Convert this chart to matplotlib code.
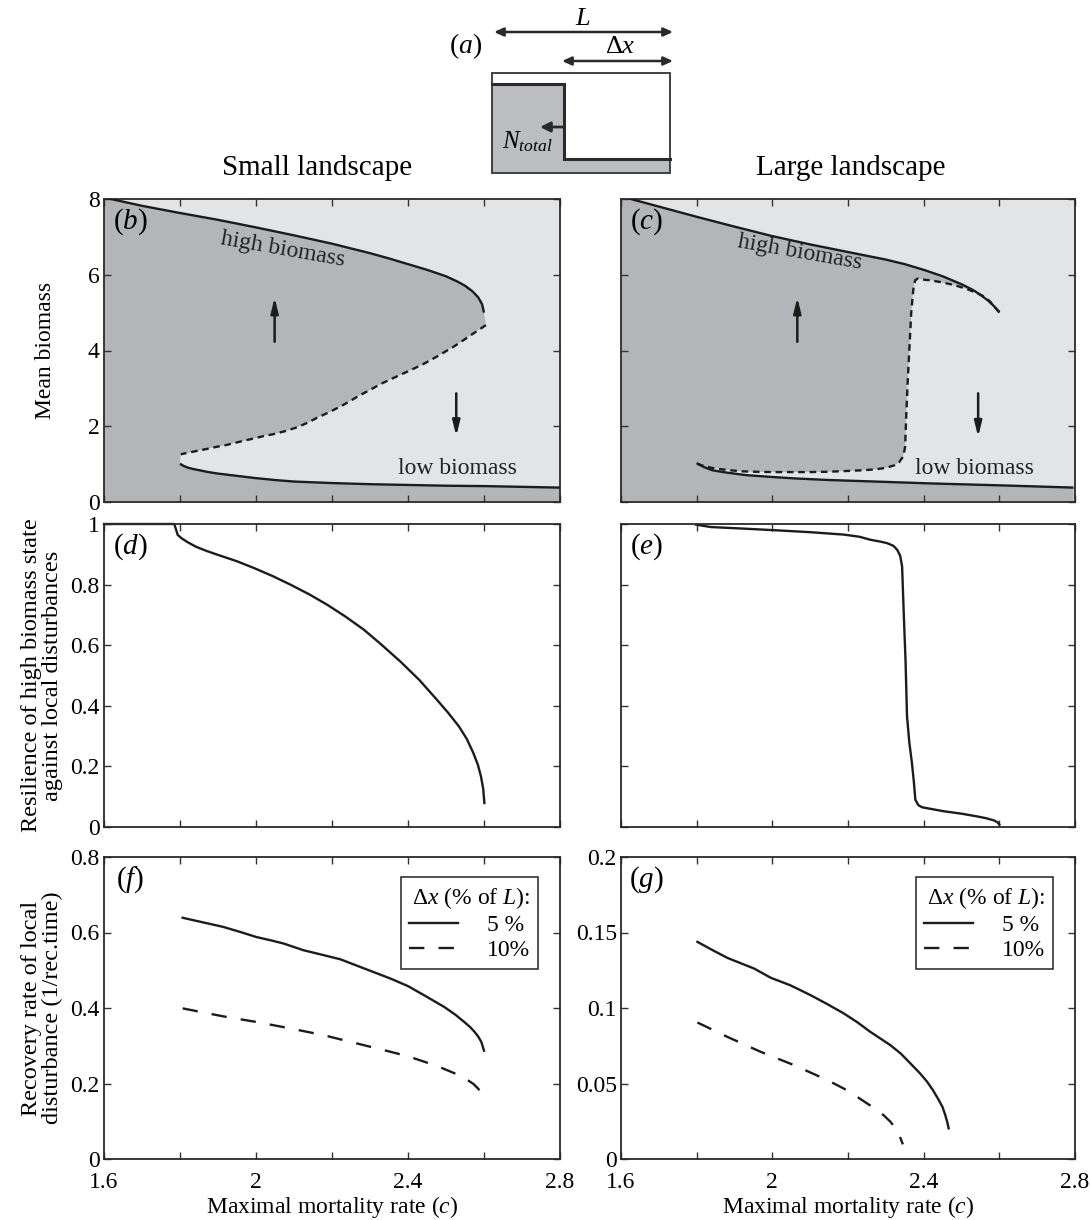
import numpy as np
import matplotlib
matplotlib.use("Agg")
import matplotlib.pyplot as plt
from matplotlib.patches import Rectangle, Polygon
from matplotlib.ticker import FixedLocator, FixedFormatter

plt.rcParams['font.family'] = ['Liberation Serif', 'DejaVu Serif']
plt.rcParams['mathtext.fontset'] = 'custom'
plt.rcParams['mathtext.rm'] = 'Liberation Serif'
plt.rcParams['mathtext.it'] = 'Liberation Serif:italic'

# ---------------- data ----------------
x_ticks = [1.6, 1.8, 2.0, 2.2, 2.4, 2.6, 2.8]
x_tick_labels = ['1.6', '', '2', '', '2.4', '', '2.8']

# (b) small landscape bifurcation
b_high_x = [1.60, 1.70, 1.80, 1.90, 2.00, 2.10, 2.20, 2.30, 2.35, 2.40, 2.45, 2.50, 2.53, 2.55, 2.57, 2.585, 2.595, 2.60]
b_high_y = [8.04, 7.82, 7.63, 7.45, 7.25, 7.04, 6.82, 6.57, 6.43, 6.28, 6.13, 5.96, 5.82, 5.71, 5.56, 5.40, 5.22, 5.00]
b_unst_x = [2.605, 2.59, 2.572, 2.55, 2.52, 2.476, 2.44, 2.40, 2.365, 2.331, 2.30, 2.27, 2.245, 2.22,
            2.19, 2.16, 2.135, 2.11, 2.08, 2.05, 2.02, 1.995, 1.965, 1.94, 1.92, 1.898, 1.875, 1.85, 1.825, 1.802]
b_unst_y = [4.67, 4.57, 4.45, 4.30, 4.10, 3.84, 3.64, 3.45, 3.29, 3.13, 2.96, 2.80, 2.65, 2.51,
            2.36, 2.22, 2.09, 1.98, 1.88, 1.80, 1.74, 1.68, 1.61, 1.55, 1.50, 1.46, 1.41, 1.36, 1.31, 1.26]
b_low_x = [1.80, 1.81, 1.82, 1.835, 1.85, 1.875, 1.90, 1.95, 2.00, 2.05, 2.10, 2.20, 2.30, 2.40, 2.50, 2.60, 2.70, 2.80]
b_low_y = [1.01, 0.95, 0.91, 0.87, 0.84, 0.79, 0.75, 0.69, 0.63, 0.58, 0.54, 0.50, 0.47, 0.45, 0.43, 0.42, 0.40, 0.38]

# (c) large landscape bifurcation
c_high_x = [1.60, 1.70, 1.80, 1.90, 2.00, 2.10, 2.20, 2.30, 2.35, 2.40, 2.45, 2.50, 2.53, 2.55, 2.57, 2.585, 2.60]
c_high_y = [8.07, 7.80, 7.53, 7.27, 7.02, 6.80, 6.60, 6.40, 6.28, 6.13, 5.96, 5.75, 5.60, 5.47, 5.32, 5.18, 5.02]
c_unst_x = [2.60, 2.59, 2.575, 2.555, 2.53, 2.51, 2.48, 2.448, 2.42, 2.40, 2.385, 2.378, 2.374, 2.371,
            2.367, 2.362, 2.358, 2.354, 2.351, 2.348, 2.345, 2.335, 2.323, 2.30, 2.27, 2.242, 2.20, 2.15,
            2.10, 2.064, 2.00, 1.95, 1.92, 1.886, 1.86, 1.84, 1.82, 1.80]
c_unst_y = [5.00, 5.12, 5.30, 5.45, 5.56, 5.64, 5.73, 5.80, 5.85, 5.87, 5.90, 5.86, 5.72, 5.45,
            4.98, 4.00, 3.22, 2.30, 1.46, 1.30, 1.19, 1.05, 0.97, 0.90, 0.86, 0.84, 0.82, 0.80,
            0.79, 0.79, 0.79, 0.80, 0.81, 0.84, 0.87, 0.90, 0.95, 1.01]
c_low_x = [1.80, 1.81, 1.82, 1.841, 1.87, 1.90, 1.93, 2.00, 2.064, 2.15, 2.242, 2.33, 2.42, 2.51, 2.60, 2.70, 2.796]
c_low_y = [1.03, 0.97, 0.92, 0.84, 0.79, 0.75, 0.71, 0.66, 0.62, 0.58, 0.55, 0.52, 0.49, 0.465, 0.44, 0.41, 0.38]

# (d) resilience, small landscape
d_x = [1.60, 1.70, 1.785, 1.794, 1.804, 1.82, 1.842, 1.87, 1.90, 1.95, 1.996, 2.044, 2.092, 2.14, 2.188,
       2.236, 2.284, 2.33, 2.38, 2.43, 2.476, 2.505, 2.534, 2.555, 2.572, 2.584, 2.592, 2.598, 2.601]
d_y = [1.0, 1.0, 1.0, 0.964, 0.953, 0.94, 0.925, 0.911, 0.898, 0.877, 0.854, 0.828, 0.799, 0.768, 0.733,
       0.694, 0.651, 0.602, 0.546, 0.485, 0.42, 0.378, 0.332, 0.29, 0.244, 0.205, 0.167, 0.125, 0.079]

# (e) resilience, large landscape
e_x = [1.798, 1.837, 1.92, 2.013, 2.10, 2.189, 2.23, 2.259, 2.285, 2.303, 2.32, 2.33, 2.338, 2.343,
       2.347, 2.352, 2.356, 2.362, 2.369, 2.374, 2.378, 2.386, 2.396, 2.453, 2.50, 2.541, 2.565, 2.585, 2.595, 2.60]
e_y = [0.998, 0.99, 0.985, 0.979, 0.973, 0.965, 0.958, 0.948, 0.942, 0.937, 0.928, 0.915, 0.895, 0.86,
       0.717, 0.552, 0.365, 0.28, 0.211, 0.15, 0.09, 0.072, 0.065, 0.052, 0.044, 0.035, 0.029, 0.022, 0.016, 0.008]

# (f) recovery rate, small landscape
f5_x = [1.807, 1.86, 1.913, 1.96, 2.001, 2.04, 2.072, 2.125, 2.17, 2.222, 2.284, 2.354, 2.40, 2.442,
        2.495, 2.525, 2.548, 2.565, 2.575, 2.585, 2.593, 2.60]
f5_y = [0.639, 0.627, 0.615, 0.601, 0.588, 0.579, 0.571, 0.553, 0.542, 0.529, 0.505, 0.478, 0.458, 0.434,
        0.403, 0.382, 0.363, 0.348, 0.337, 0.324, 0.31, 0.287]
f10_x = [1.807, 1.913, 2.001, 2.09, 2.178, 2.266, 2.354, 2.40, 2.442, 2.48, 2.513, 2.537, 2.557, 2.572, 2.584, 2.594, 2.602]
f10_y = [0.399, 0.378, 0.363, 0.346, 0.328, 0.306, 0.284, 0.272, 0.258, 0.245, 0.231, 0.221, 0.209, 0.199, 0.187, 0.175, 0.161]

# (g) recovery rate, large landscape
g5_x = [1.802, 1.837, 1.881, 1.952, 1.996, 2.048, 2.101, 2.145, 2.189, 2.225, 2.259, 2.312, 2.34, 2.365,
        2.39, 2.409, 2.425, 2.44, 2.45, 2.457, 2.462, 2.466]
g5_y = [0.1438, 0.139, 0.1332, 0.1261, 0.120, 0.115, 0.1085, 0.1026, 0.0964, 0.0905, 0.0842, 0.0754,
        0.0697, 0.0633, 0.0568, 0.0512, 0.0454, 0.039, 0.0343, 0.0291, 0.0248, 0.0203]
g10_x = [1.802, 1.881, 1.969, 2.057, 2.145, 2.19, 2.224, 2.277, 2.295, 2.312, 2.322, 2.33, 2.338, 2.345]
g10_y = [0.0904, 0.0809, 0.071, 0.0622, 0.0523, 0.0465, 0.0412, 0.0324, 0.0288, 0.0247, 0.0215, 0.0181, 0.0142, 0.0097]

legend_title = 'Δ$x$ (% of $L$):'
legend_labels = ['5 %', '10%']

# ---------------- style ----------------
DARK = '#b4b5b8'
LIGHT = '#e3e4e6'
LINE = '#1c1c1c'
LW = 1.7
FS = 17

fig = plt.figure(figsize=(10.9, 12.2), dpi=100)

# schematic (a) in pixel coordinates
ax0 = fig.add_axes([0, 0, 1, 1])
ax0.set_xlim(0, 1090)
ax0.set_ylim(1220, 0)
ax0.axis('off')
ax0.patch.set_visible(False)
ax0.add_patch(Polygon([(492, 84), (564, 84), (564, 159), (670, 159), (670, 173), (492, 173)],
                      closed=True, facecolor='#bcbdc0', edgecolor='none'))
ax0.plot([492, 564, 564, 670], [84, 84, 159, 159], color='#2a2a2a', lw=2.2, solid_joinstyle='miter')
ax0.add_patch(Rectangle((492, 73), 178, 100, facecolor='none', edgecolor='#333333', lw=1.3))
ax0.annotate('', xy=(540, 127), xytext=(564, 127),
             arrowprops=dict(arrowstyle='-|>,head_length=0.6,head_width=0.3', lw=2, color='#2a2a2a',
                             shrinkA=0, shrinkB=0))
ax0.annotate('', xy=(494, 32), xytext=(673, 32),
             arrowprops=dict(arrowstyle='<|-|>,head_length=0.55,head_width=0.25', lw=1.8, color='#2a2a2a',
                             shrinkA=0, shrinkB=0))
ax0.annotate('', xy=(562, 61), xytext=(673, 61),
             arrowprops=dict(arrowstyle='<|-|>,head_length=0.55,head_width=0.25', lw=1.8, color='#2a2a2a',
                             shrinkA=0, shrinkB=0))
ax0.text(583, 19, '$L$', fontsize=19, ha='center', va='center')
ax0.text(620, 47, 'Δ$x$', fontsize=19, ha='center', va='center')
ax0.text(466, 46, '($a$)', fontsize=20, ha='center', va='center')
ax0.text(502, 142, '$N_{total}$', fontsize=18, ha='left', va='center')

ax0.text(317, 168, 'Small landscape', fontsize=21, ha='center', va='center')
ax0.text(851, 168, 'Large landscape', fontsize=21, ha='center', va='center')

W = 1090.0
H = 1220.0
lx0, lw_ = 104 / W, 456 / W
rx0, rw_ = 621 / W, 454 / W
rows = [(199, 502), (524, 827), (857, 1159)]


def mkax(x0, w, r):
    top, bot = rows[r]
    return fig.add_axes([x0, 1 - bot / H, w, (bot - top) / H])


axb = mkax(lx0, lw_, 0)
axc = mkax(rx0, rw_, 0)
axd = mkax(lx0, lw_, 1)
axe = mkax(rx0, rw_, 1)
axf = mkax(lx0, lw_, 2)
axg = mkax(rx0, rw_, 2)

for ax in [axb, axc, axd, axe, axf, axg]:
    ax.set_xlim(1.6, 2.8)
    ax.xaxis.set_major_locator(FixedLocator(x_ticks))
    ax.xaxis.set_major_formatter(FixedFormatter(x_tick_labels))
    ax.tick_params(direction='in', top=True, right=True, length=5, width=1.0,
                   labelsize=17, pad=3, color='#333333')
    ax.tick_params(axis='x', pad=9)
    for s in ax.spines.values():
        s.set_linewidth(1.3)
        s.set_color('#2a2a2a')

for ax in [axb, axc, axd, axe]:
    ax.tick_params(labelbottom=False)
for ax in [axc, axe]:
    ax.tick_params(labelleft=False)


def bif_panel(ax, hx, hy, ux, uy, lx, ly):
    ax.set_ylim(0, 8)
    ax.set_yticks([0, 2, 4, 6, 8])
    ax.set_facecolor(LIGHT)
    poly_x = np.concatenate([hx, ux, lx, [lx[-1], hx[0]]])
    poly_y = np.concatenate([hy, uy, ly, [0, 0]])
    ax.fill(poly_x, poly_y, color=DARK, lw=0, zorder=1)
    ax.plot(hx, hy, color=LINE, lw=LW, zorder=3, solid_capstyle='butt')
    ax.plot(lx, ly, color=LINE, lw=LW, zorder=3, solid_capstyle='butt')
    ax.plot(ux, uy, color=LINE, lw=LW, ls=(0, (2.8, 2.0)), zorder=3)


bif_panel(axb, b_high_x, b_high_y, b_unst_x, b_unst_y, b_low_x, b_low_y)
bif_panel(axc, c_high_x, c_high_y, c_unst_x, c_unst_y, c_low_x, c_low_y)

arrow_kw = dict(arrowstyle='-|>,head_length=0.9,head_width=0.22', lw=1.8, color=LINE,
                shrinkA=0, shrinkB=0)
axb.annotate('', xy=(2.049, 5.40), xytext=(2.049, 4.23), arrowprops=arrow_kw, zorder=4)
axb.annotate('', xy=(2.527, 1.74), xytext=(2.527, 2.87), arrowprops=arrow_kw, zorder=4)
axc.annotate('', xy=(2.066, 5.40), xytext=(2.066, 4.23), arrowprops=arrow_kw, zorder=4)
axc.annotate('', xy=(2.544, 1.72), xytext=(2.544, 2.87), arrowprops=arrow_kw, zorder=4)

axb.text(2.07, 6.66, 'high biomass', fontsize=FS, rotation=-10, ha='center', va='center',
         color='#222222', zorder=4)
axc.text(2.073, 6.58, 'high biomass', fontsize=FS, rotation=-10, ha='center', va='center',
         color='#222222', zorder=4)
axb.text(2.529, 0.88, 'low biomass', fontsize=FS, ha='center', va='center', color='#222222', zorder=4)
axc.text(2.535, 0.88, 'low biomass', fontsize=FS, ha='center', va='center', color='#222222', zorder=4)

# resilience panels
for ax in [axd, axe]:
    ax.set_ylim(0, 1)
    ax.set_yticks([0, 0.2, 0.4, 0.6, 0.8, 1.0])
    ax.set_yticklabels(['0', '0.2', '0.4', '0.6', '0.8', '1'])
axd.plot(d_x, d_y, color=LINE, lw=LW, clip_on=False)
axe.plot(e_x, e_y, color=LINE, lw=LW)

# recovery panels
axf.set_ylim(0, 0.8)
axf.set_yticks([0, 0.2, 0.4, 0.6, 0.8])
axf.set_yticklabels(['0', '0.2', '0.4', '0.6', '0.8'])
axg.set_ylim(0, 0.2)
axg.set_yticks([0, 0.05, 0.1, 0.15, 0.2])
axg.set_yticklabels(['0', '0.05', '0.1', '0.15', '0.2'])

for ax, (x5, y5, x10, y10) in [(axf, (f5_x, f5_y, f10_x, f10_y)), (axg, (g5_x, g5_y, g10_x, g10_y))]:
    ax.plot(x5, y5, color=LINE, lw=LW, label=legend_labels[0])
    ax.plot(x10, y10, color=LINE, lw=LW, ls=(0, (6.5, 6.0)), label=legend_labels[1])
    leg = ax.legend(title=legend_title, loc='upper right', bbox_to_anchor=(0.952, 0.935),
                    fontsize=FS, title_fontsize=FS, frameon=True, fancybox=False,
                    edgecolor='#222222', framealpha=1, handlelength=2.1, handletextpad=1.2,
                    borderpad=0.35, labelspacing=0.15, alignment='right', borderaxespad=0)
    leg.get_frame().set_linewidth(1.1)
    for t in leg.get_texts():
        t.set_ha('left')

# panel labels
for ax, lab in [(axb, 'b'), (axc, 'c'), (axd, 'd'), (axe, 'e'), (axf, 'f'), (axg, 'g')]:
    ax.text(0.057, 0.925, '($' + lab + '$)', transform=ax.transAxes, fontsize=21,
            ha='center', va='center', zorder=5)

# axis labels
axb.set_ylabel('Mean biomass', fontsize=FS)
axb.yaxis.set_label_coords(-0.105, 0.5)
axd.set_ylabel('Resilience of high biomass state\nagainst local disturbances', fontsize=17.5,
               linespacing=1.0)
axd.yaxis.set_label_coords(-0.09, 0.5)
axf.set_ylabel('Recovery rate of local\ndisturbance (1/rec.time)', fontsize=17.5, linespacing=1.0)
axf.yaxis.set_label_coords(-0.09, 0.5)
axf.set_xlabel('Maximal mortality rate ($c$)', fontsize=FS, labelpad=1)
axg.set_xlabel('Maximal mortality rate ($c$)', fontsize=FS, labelpad=1)

fig.savefig('out.png', dpi=100)
